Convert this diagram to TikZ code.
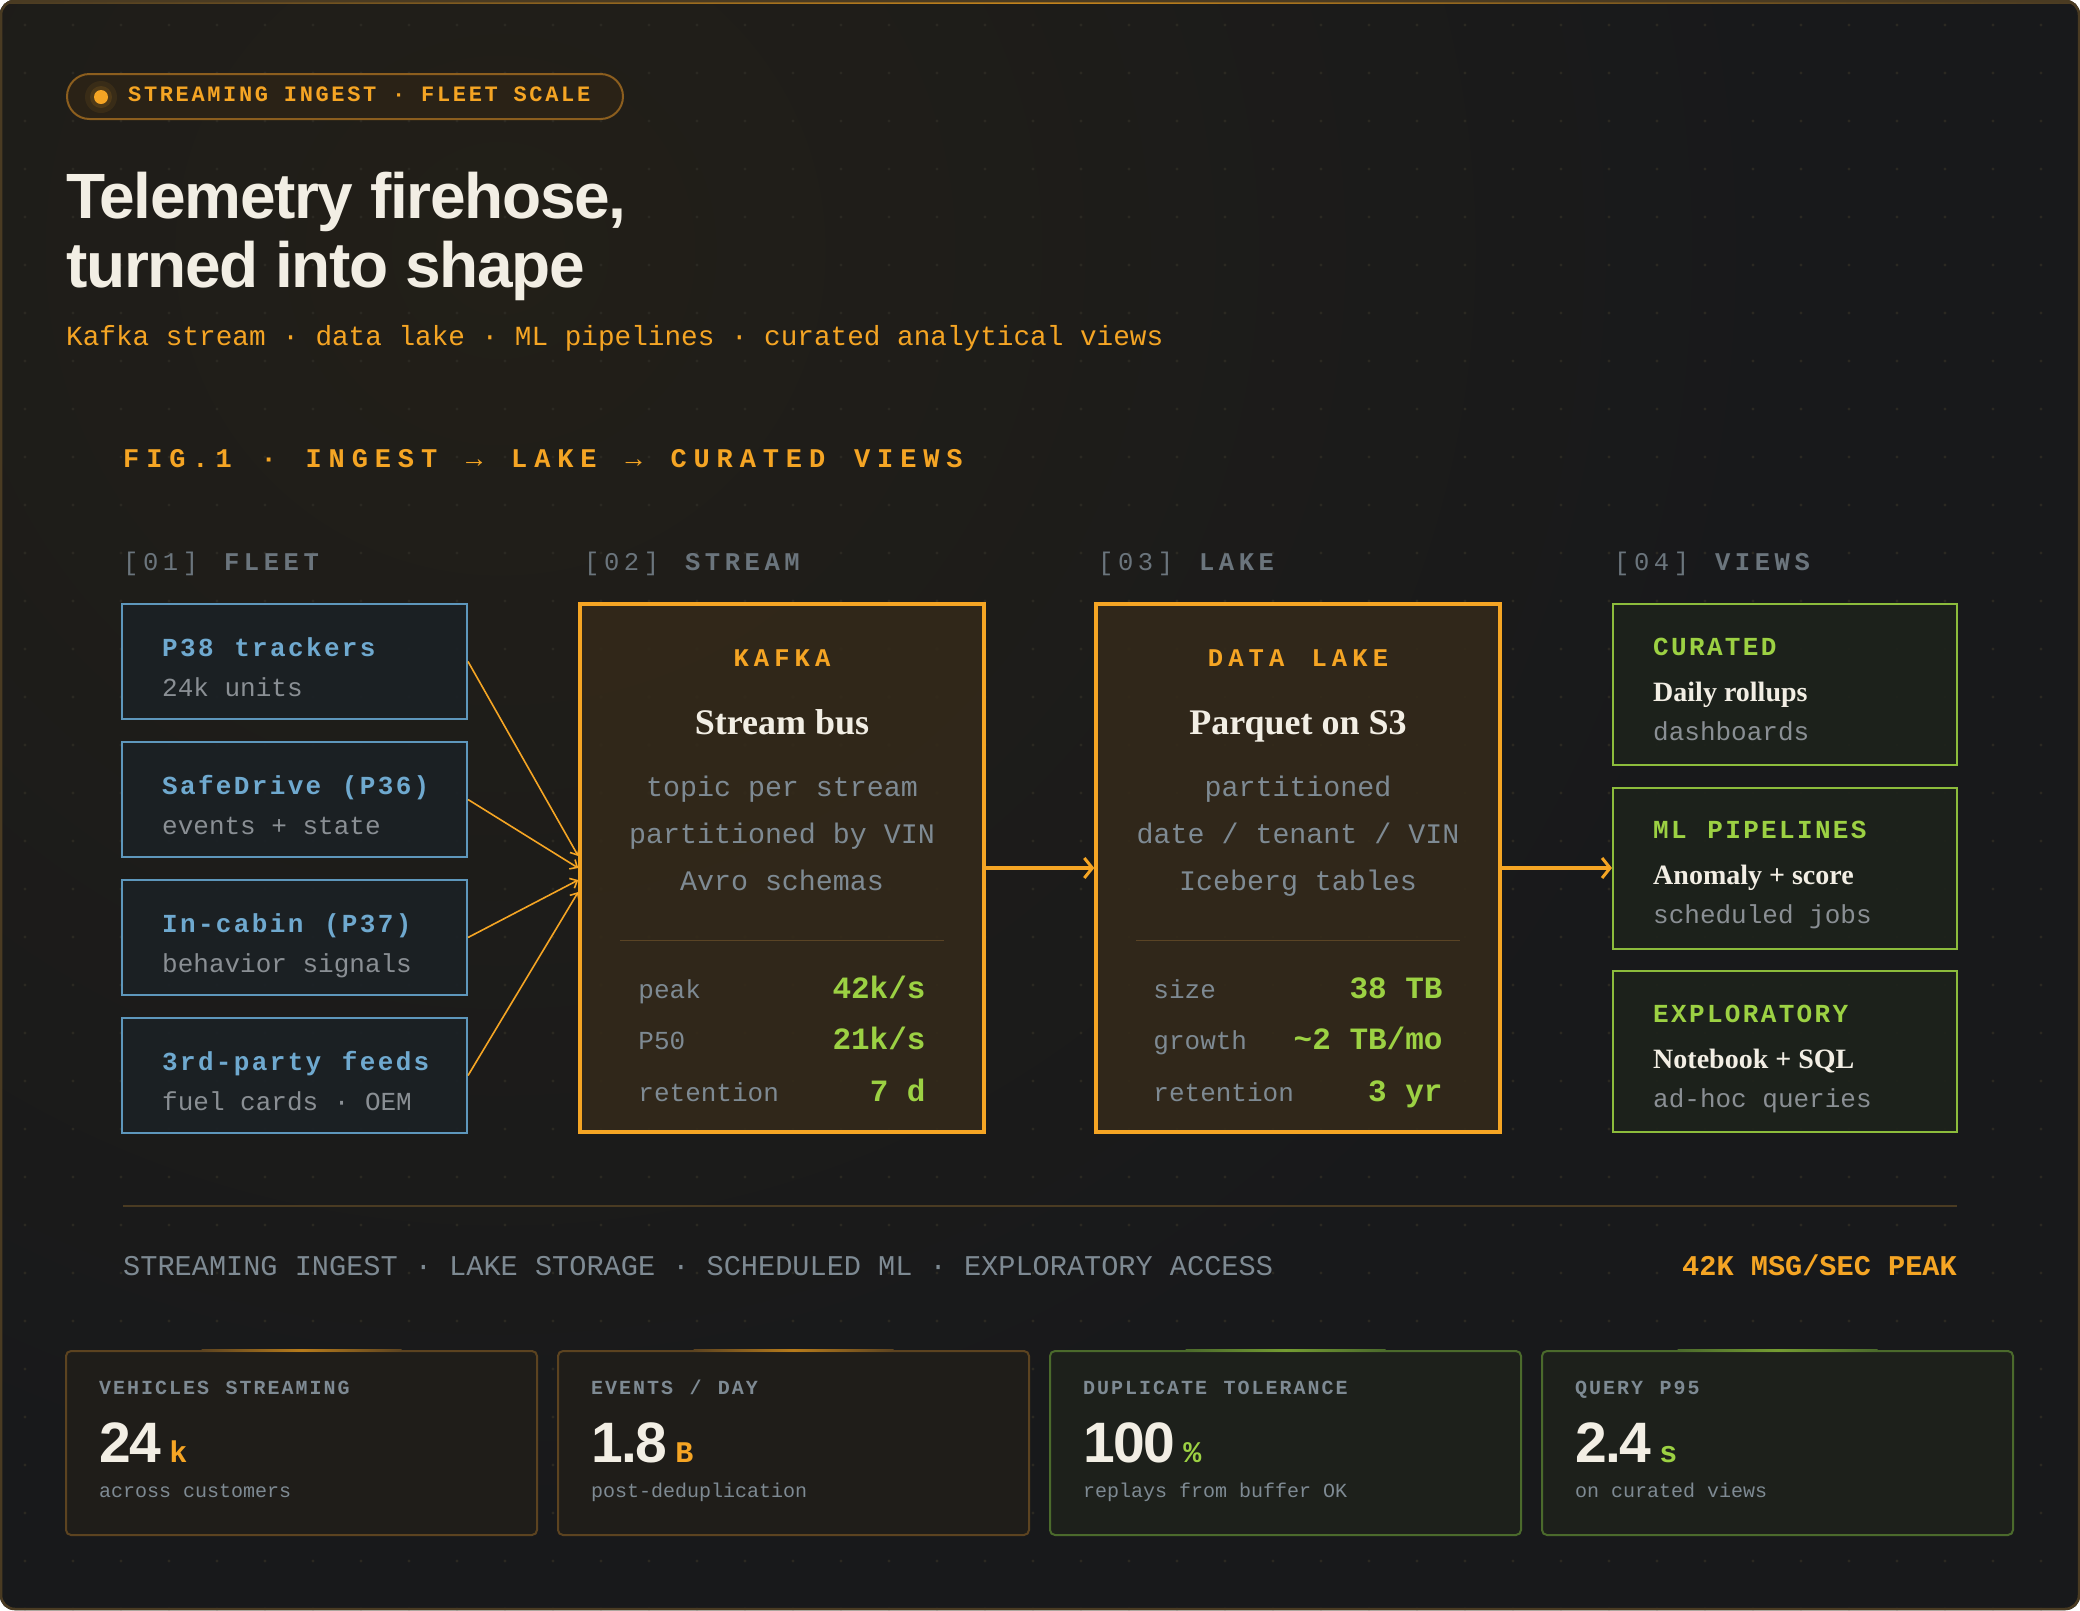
\documentclass[tikz,border=0pt]{standalone}
\usepackage{fontspec}
\setmainfont{Liberation Sans}
\newfontfamily\monofont{Liberation Mono}
\newfontfamily\headfont{Liberation Sans}
\newfontfamily\namefont{Liberation Serif}
\usetikzlibrary{positioning}
\usetikzlibrary{backgrounds}
\usetikzlibrary{arrows.meta}

\definecolor{bgdark}{HTML}{18191B}
\definecolor{bgwarm}{HTML}{221F18}
\definecolor{framebrown}{HTML}{4A3B22}
\definecolor{accent}{HTML}{F5A524}
\definecolor{lime}{HTML}{9CD143}
\definecolor{steel}{HTML}{5E97BC}
\definecolor{steeltext}{HTML}{6FA9CF}
\definecolor{mist}{HTML}{7E8A93}
\definecolor{ash}{HTML}{8A8F94}
\definecolor{cream}{HTML}{F2EEE4}
\definecolor{dotc}{HTML}{2B2922}
\definecolor{kafkafill}{HTML}{33291A}
\definecolor{viewfill}{HTML}{1D221B}
\definecolor{fleetfill}{HTML}{1B2125}
\definecolor{rulebrown}{HTML}{5A4425}
\definecolor{cardwarm}{HTML}{1F1D19}
\definecolor{cardgreen}{HTML}{1D201B}
\definecolor{cardedge}{HTML}{5C4320}
\definecolor{cardedgeg}{HTML}{4B6A2C}
\definecolor{badgefill}{HTML}{2A2216}
\definecolor{badgeedge}{HTML}{8C5E1E}

\newcommand{\fsz}[1]{\fontsize{#1}{#1}\selectfont}
\newcommand{\trk}[1]{\addfontfeature{LetterSpace=#1}}
\newcommand{\wsp}[1]{\spaceskip=#1\fontdimen2\font\relax}

\tikzset{
    txt/.style={inner sep=0pt, anchor=base west},
    fleetbox/.style={rectangle, draw=steel, line width=2pt, fill=fleetfill, fill opacity=0.9, minimum width=345pt, minimum height=115pt},
    corebox/.style={rectangle, draw=accent, line width=3.5pt, fill=kafkafill, fill opacity=0.9, minimum width=404pt, minimum height=528pt},
    viewbox/.style={rectangle, draw=lime!90!black, line width=2pt, fill=viewfill, fill opacity=0.9, minimum width=344pt, minimum height=161pt},
    cardbox/.style={rectangle, rounded corners=5pt, line width=2pt, minimum width=471pt, minimum height=184pt},
    fleettitle/.style={txt, text=steeltext, font=\monofont\bfseries\fsz{26}\trk{9}\wsp{1.15}},
    fleetsub/.style={txt, text=ash, font=\monofont\fsz{26}},
    coretag/.style={inner sep=0pt, anchor=base, text=accent, font=\monofont\bfseries\fsz{25.5}\trk{20}\wsp{1.33}},
    corename/.style={inner sep=0pt, anchor=base, text=cream, font=\namefont\bfseries\fsz{36}},
    coredesc/.style={inner sep=0pt, anchor=base, text=mist, font=\monofont\fsz{28.3}},
    statkey/.style={txt, text=mist, font=\monofont\fsz{26}},
    statval/.style={inner sep=0pt, anchor=base east, text=lime, font=\monofont\bfseries\fsz{31}},
    viewtag/.style={txt, text=lime, font=\monofont\bfseries\fsz{26}\trk{9}\wsp{1.15}},
    viewname/.style={txt, text=cream, font=\namefont\bfseries\fsz{28}},
    colhead/.style={txt, text=mist!85!black, font=\monofont\fsz{25.5}\trk{18}\wsp{1.3}},
    cardkey/.style={txt, text=mist, font=\monofont\bfseries\fsz{20}\trk{10}\wsp{1.17}},
    bignum/.style={txt, text=cream, font=\headfont\bfseries\fsz{57}\trk{-3}},
    unit/.style={txt, font=\monofont\bfseries\fsz{30}},
    cardsub/.style={txt, text=mist, font=\monofont\fsz{20}},
    feed/.style={accent, line width=1.6pt, -{Straight Barb[length=6pt, width=11pt]}},
    flow/.style={accent, line width=3.5pt, -{Straight Barb[length=8pt, width=20pt, line width=3pt]}},
}

\begin{document}
\begin{tikzpicture}[x=1pt, y=-1pt]

    \useasboundingbox (0,0) rectangle (2080,1610);

    % Backdrop
    \begin{scope}[on background layer]
      \fill[bgdark, rounded corners=14] (0,0) rectangle (2080,1610);
      \begin{scope}
        \clip[rounded corners=14] (0,0) rectangle (2080,1610);
        \shade[inner color=bgwarm, outer color=bgdark] (-800,-1050) rectangle (1800,1550);
        \foreach \gx in {0,...,43}
          \foreach \gy in {0,...,33}
            \fill[dotc] (25+48*\gx,25+48*\gy) circle (1.7);
        \shade[left color=framebrown, right color=framebrown, middle color=accent!80!black] (0,0) rectangle (2080,3);
      \end{scope}
      \draw[framebrown, line width=2.5, rounded corners=14] (1,1) rectangle (2079,1609);
    \end{scope}

    % Header
    \node[rectangle, draw=badgeedge, line width=2pt, fill=badgefill, rounded corners=22.5pt, minimum width=556pt, minimum height=45pt] (badge) at (345,96.5) {};
    \coordinate (pulse) at (101,97);
    \fill[accent, opacity=0.08] (pulse) circle (16);
    \fill[accent, opacity=0.12] (pulse) circle (11);
    \fill[accent] (pulse) circle (7);
    \node[txt, text=accent, font=\monofont\bfseries\fsz{22}\trk{12}] (badgetxt) at (128,101.5) {STREAMING INGEST · FLEET SCALE};

    \node[txt, text=cream, font=\headfont\bfseries\fsz{64}\trk{-2}] (title1) at (66,218) {Telemetry firehose,};
    \node[txt, text=cream, font=\headfont\bfseries\fsz{64}\trk{-2}] (title2) at (66,287) {turned into shape};
    \node[txt, text=accent, font=\monofont\fsz{27.7}] (tagline) at (66,345) {Kafka stream · data lake · ML pipelines · curated analytical views};

    \node[txt, text=accent, font=\monofont\bfseries\fsz{27}\trk{25.5}\wsp{1.25}] (figlabel) at (123,467) {FIG.1 · INGEST → LAKE → CURATED VIEWS};

    % Column headers
    \node[colhead] (hfleet) at (123,570) {[01] {\bfseries FLEET}};
    \node[colhead] (hstream) at (584,570) {[02] {\bfseries STREAM}};
    \node[colhead] (hlake) at (1098,570) {[03] {\bfseries LAKE}};
    \node[colhead] (hviews) at (1614,570) {[04] {\bfseries VIEWS}};

    % Fleet sources
    \node[fleetbox] (f1) at (294.5,661.5) {};
    \node[fleetbox, below=21pt of f1] (f2) {};
    \node[fleetbox, below=21pt of f2] (f3) {};
    \node[fleetbox, below=21pt of f3] (f4) {};

    \node[fleettitle] (f1t) at ([shift={(41,53)}]f1.north west) {P38 trackers};
    \node[fleetsub] (f1s) at ([shift={(41,93)}]f1.north west) {24k units};
    \node[fleettitle] (f2t) at ([shift={(41,53)}]f2.north west) {SafeDrive (P36)};
    \node[fleetsub] (f2s) at ([shift={(41,93)}]f2.north west) {events + state};
    \node[fleettitle] (f3t) at ([shift={(41,53)}]f3.north west) {In-cabin (P37)};
    \node[fleetsub] (f3s) at ([shift={(41,93)}]f3.north west) {behavior signals};
    \node[fleettitle] (f4t) at ([shift={(41,53)}]f4.north west) {3rd-party feeds};
    \node[fleetsub] (f4s) at ([shift={(41,93)}]f4.north west) {fuel cards · OEM};

    % Stream and lake
    \node[corebox] (kafka) at (782,868) {};
    \node[corebox, right=108.5pt of kafka] (lake) {};

    \node[coretag] (kafkatag) at ([shift={(0,64)}]kafka.north) {KAFKA};
    \node[corename] (kafkaname) at ([shift={(0,132)}]kafka.north) {Stream bus};
    \node[coredesc] (kafkad1) at ([shift={(0,194)}]kafka.north) {topic per stream};
    \node[coredesc] (kafkad2) at ([shift={(0,241)}]kafka.north) {partitioned by VIN};
    \node[coredesc] (kafkad3) at ([shift={(0,288)}]kafka.north) {Avro schemas};
    \draw[rulebrown, line width=1.5pt] ([shift={(42,338)}]kafka.north west) -- ([shift={(-42,338)}]kafka.north east);
    \node[statkey] (kk1) at ([shift={(60,396)}]kafka.north west) {peak};
    \node[statval] (kv1) at ([shift={(-60,396)}]kafka.north east) {42k/s};
    \node[statkey] (kk2) at ([shift={(60,447)}]kafka.north west) {P50};
    \node[statval] (kv2) at ([shift={(-60,447)}]kafka.north east) {21k/s};
    \node[statkey] (kk3) at ([shift={(60,499)}]kafka.north west) {retention};
    \node[statval] (kv3) at ([shift={(-60,499)}]kafka.north east) {7 d};

    \node[coretag] (laketag) at ([shift={(0,64)}]lake.north) {DATA LAKE};
    \node[corename] (lakename) at ([shift={(0,132)}]lake.north) {Parquet on S3};
    \node[coredesc] (laked1) at ([shift={(0,194)}]lake.north) {partitioned};
    \node[coredesc] (laked2) at ([shift={(0,241)}]lake.north) {date / tenant / VIN};
    \node[coredesc] (laked3) at ([shift={(0,288)}]lake.north) {Iceberg tables};
    \draw[rulebrown, line width=1.5pt] ([shift={(42,338)}]lake.north west) -- ([shift={(-42,338)}]lake.north east);
    \node[statkey] (lk1) at ([shift={(59,396)}]lake.north west) {size};
    \node[statval] (lv1) at ([shift={(-59,396)}]lake.north east) {38 TB};
    \node[statkey] (lk2) at ([shift={(59,447)}]lake.north west) {growth};
    \node[statval] (lv2) at ([shift={(-59,447)}]lake.north east) {\textasciitilde2 TB/mo};
    \node[statkey] (lk3) at ([shift={(59,499)}]lake.north west) {retention};
    \node[statval] (lv3) at ([shift={(-59,499)}]lake.north east) {3 yr};

    % Views
    \node[viewbox, right=110.25pt of lake] (v2) {};
    \node[viewbox, above=20.5pt of v2] (v1) {};
    \node[viewbox, below=20.5pt of v2] (v3) {};

    \node[viewtag] (v1t) at ([shift={(41,52)}]v1.north west) {CURATED};
    \node[viewname] (v1n) at ([shift={(41,98)}]v1.north west) {Daily rollups};
    \node[fleetsub] (v1s) at ([shift={(41,137)}]v1.north west) {dashboards};
    \node[viewtag] (v2t) at ([shift={(41,52)}]v2.north west) {ML PIPELINES};
    \node[viewname] (v2n) at ([shift={(41,98)}]v2.north west) {Anomaly + score};
    \node[fleetsub] (v2s) at ([shift={(41,137)}]v2.north west) {scheduled jobs};
    \node[viewtag] (v3t) at ([shift={(41,52)}]v3.north west) {EXPLORATORY};
    \node[viewname] (v3n) at ([shift={(41,98)}]v3.north west) {Notebook + SQL};
    \node[fleetsub] (v3s) at ([shift={(41,137)}]v3.north west) {ad-hoc queries};

    % Connectors
    \draw[feed] (f1.east) -- ([shift={(0,-12)}]kafka.west);
    \draw[feed] (f2.east) -- (kafka.west);
    \draw[feed] (f3.east) -- ([shift={(0,12)}]kafka.west);
    \draw[feed] (f4.east) -- ([shift={(0,24)}]kafka.west);
    \draw[flow] (kafka.east) -- (lake.west);
    \draw[flow] (lake.east) -- (v2.west);

    % Footer strip
    \coordinate (ruleL) at (123,1206);
    \coordinate (ruleR) at (1957,1206);
    \draw[framebrown, line width=2pt] (ruleL) -- (ruleR);
    \node[txt, text=mist, font=\monofont\fsz{28.6}] (caption) at (123,1275) {STREAMING INGEST · LAKE STORAGE · SCHEDULED ML · EXPLORATORY ACCESS};
    \node[inner sep=0pt, anchor=base east, text=accent, font=\monofont\bfseries\fsz{28.6}] (peak) at (1957,1275) {42K MSG/SEC PEAK};

    % Stat cards
    \node[cardbox, draw=cardedge, fill=cardwarm] (c1) at (301.5,1443) {};
    \node[cardbox, draw=cardedge, fill=cardwarm, right=19pt of c1] (c2) {};
    \node[cardbox, draw=cardedgeg, fill=cardgreen, right=19pt of c2] (c3) {};
    \node[cardbox, draw=cardedgeg, fill=cardgreen, right=19pt of c3] (c4) {};

    \shade[left color=cardedge, right color=cardedge, middle color=accent!75!black] ([shift={(-100,-1)}]c1.north) rectangle ([shift={(100,1)}]c1.north);
    \shade[left color=cardedge, right color=cardedge, middle color=accent!75!black] ([shift={(-100,-1)}]c2.north) rectangle ([shift={(100,1)}]c2.north);
    \shade[left color=cardedgeg, right color=cardedgeg, middle color=lime!75!black] ([shift={(-100,-1)}]c3.north) rectangle ([shift={(100,1)}]c3.north);
    \shade[left color=cardedgeg, right color=cardedgeg, middle color=lime!75!black] ([shift={(-100,-1)}]c4.north) rectangle ([shift={(100,1)}]c4.north);

    \node[cardkey] (c1k) at ([shift={(34,44)}]c1.north west) {VEHICLES STREAMING};
    \node[bignum] (c1n) at ([shift={(34,112)}]c1.north west) {24};
    \node[unit, text=accent] (c1u) at ([xshift=8pt]c1n.base east) {k};
    \node[cardsub] (c1s) at ([shift={(34,147)}]c1.north west) {across customers};

    \node[cardkey] (c2k) at ([shift={(34,44)}]c2.north west) {EVENTS / DAY};
    \node[bignum] (c2n) at ([shift={(34,112)}]c2.north west) {1.8};
    \node[unit, text=accent] (c2u) at ([xshift=8pt]c2n.base east) {B};
    \node[cardsub] (c2s) at ([shift={(34,147)}]c2.north west) {post-deduplication};

    \node[cardkey] (c3k) at ([shift={(34,44)}]c3.north west) {DUPLICATE TOLERANCE};
    \node[bignum] (c3n) at ([shift={(34,112)}]c3.north west) {100};
    \node[unit, text=lime] (c3u) at ([xshift=8pt]c3n.base east) {\%};
    \node[cardsub] (c3s) at ([shift={(34,147)}]c3.north west) {replays from buffer OK};

    \node[cardkey] (c4k) at ([shift={(34,44)}]c4.north west) {QUERY P95};
    \node[bignum] (c4n) at ([shift={(34,112)}]c4.north west) {2.4};
    \node[unit, text=lime] (c4u) at ([xshift=8pt]c4n.base east) {s};
    \node[cardsub] (c4s) at ([shift={(34,147)}]c4.north west) {on curated views};

\end{tikzpicture}
\end{document}
